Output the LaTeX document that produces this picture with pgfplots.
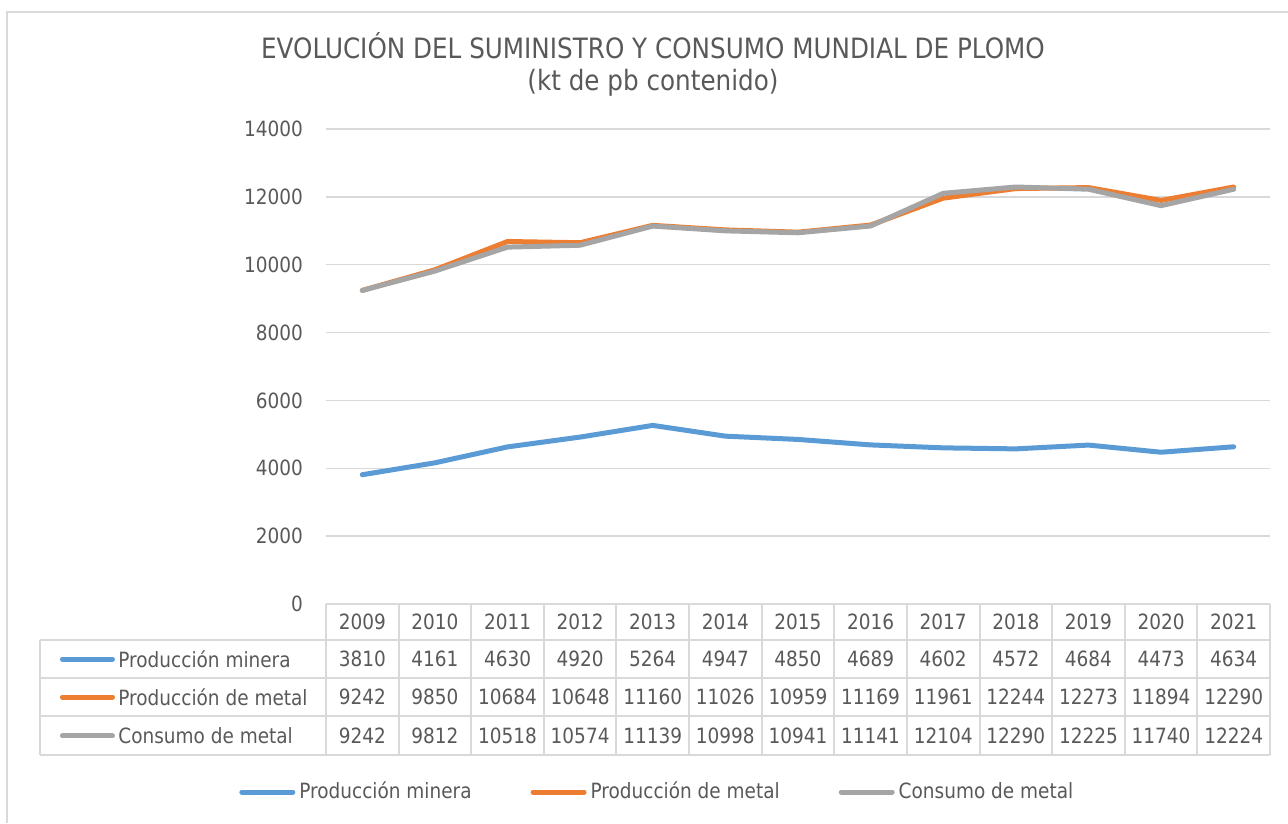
\documentclass[border=0pt]{standalone}
\usepackage{pgfplots}
\pgfplotsset{compat=1.18}
\usepackage{pgfplotstable}
\usepackage{fontspec}
\setmainfont{DejaVu Sans}[FakeStretch=0.88]
\definecolor{cblue}{HTML}{5B9BD5}
\definecolor{corange}{HTML}{ED7D31}
\definecolor{cgray}{HTML}{A5A5A5}
\definecolor{cgrid}{HTML}{D9D9D9}
\definecolor{ctext}{HTML}{595959}
\pgfplotstableread{
x year mine metal cons
0 2009 3810 9242 9242
1 2010 4161 9850 9812
2 2011 4630 10684 10518
3 2012 4920 10648 10574
4 2013 5264 11160 11139
5 2014 4947 11026 10998
6 2015 4850 10959 10941
7 2016 4689 11169 11141
8 2017 4602 11961 12104
9 2018 4572 12244 12290
10 2019 4684 12273 12225
11 2020 4473 11894 11740
12 2021 4634 12290 12224
}\data
\begin{document}
\begin{tikzpicture}[font=\fontsize{10.5}{12}\selectfont,
  tabtext/.style={text=ctext, inner sep=0pt, anchor=center, font=\fontsize{10.5}{12}\selectfont}]
\begin{axis}[
  scale only axis, width=472pt, height=237.5pt,
  xmin=-0.5, xmax=12.5, ymin=0, ymax=14000,
  clip=false,
  axis line style={draw=none},
  xtick=\empty,
  ytick={0,2000,...,14000},
  scaled y ticks=false,
  yticklabel={\pgfmathprintnumber[fixed,precision=0,1000 sep={}]{\tick}},
  major tick length=0pt,
  ymajorgrids,
  grid style={draw=cgrid, line width=0.75pt},
  yticklabel style={text=ctext, font=\fontsize{10.5}{12}\selectfont, xshift=-8pt},
  /pgf/number format/1000 sep={},
  /pgf/number format/assume math mode=true,
  legend style={at={(0.352,-0.3958)}, anchor=center, draw=none, fill=none,
    legend columns=3, font=\fontsize{10.5}{12}\selectfont, text=ctext,
    /tikz/every even column/.append style={column sep=27.5pt}},
  legend image code/.code={\draw[#1] (0pt,0pt) -- (25.5pt,0pt);},
]
\addplot[cblue, line width=2.5pt, line join=round, line cap=round] table[x=x,y=mine]{\data};
\addlegendentry{Producción minera}
\addplot[corange, line width=2.5pt, line join=round, line cap=round] table[x=x,y=metal]{\data};
\addlegendentry{Producción de metal}
\addplot[cgray, line width=2.5pt, line join=round, line cap=round] table[x=x,y=cons]{\data};
\addlegendentry{Consumo de metal}

% data table grid
\draw[cgrid, line width=1pt] (axis cs:-4.4385,-1061) -- (axis cs:12.5,-1061);
\draw[cgrid, line width=1pt] (axis cs:-4.4385,-2181) -- (axis cs:12.5,-2181);
\draw[cgrid, line width=1pt] (axis cs:-4.4385,-3301) -- (axis cs:12.5,-3301);
\draw[cgrid, line width=1pt] (axis cs:-4.4385,-4450) -- (axis cs:12.5,-4450);
\draw[cgrid, line width=1pt] (axis cs:-4.4385,-1061) -- (axis cs:-4.4385,-4450);
\pgfplotsinvokeforeach{-0.5,0.5,...,12.5}{
  \draw[cgrid, line width=1pt] (axis cs:#1,0) -- (axis cs:#1,-4450);
}
\pgfplotsinvokeforeach{0,...,12}{
  \pgfplotstablegetelem{#1}{year}\of\data
  \edef\tmp{\noexpand\node[tabtext] at (axis cs:#1,-530) {\pgfplotsretval};}\tmp
  \pgfplotstablegetelem{#1}{mine}\of\data
  \edef\tmp{\noexpand\node[tabtext] at (axis cs:#1,-1621) {\pgfplotsretval};}\tmp
  \pgfplotstablegetelem{#1}{metal}\of\data
  \edef\tmp{\noexpand\node[tabtext] at (axis cs:#1,-2741) {\pgfplotsretval};}\tmp
  \pgfplotstablegetelem{#1}{cons}\of\data
  \edef\tmp{\noexpand\node[tabtext] at (axis cs:#1,-3890) {\pgfplotsretval};}\tmp
}
% row labels and keys
\draw[cblue, line width=2.5pt, line cap=round] (axis cs:-4.129,-1621) -- (axis cs:-3.44,-1621);
\draw[corange, line width=2.5pt, line cap=round] (axis cs:-4.129,-2741) -- (axis cs:-3.44,-2741);
\draw[cgray, line width=2.5pt, line cap=round] (axis cs:-4.129,-3890) -- (axis cs:-3.44,-3890);
\node[tabtext, anchor=west] at (axis cs:-3.364,-1621) {Producción minera};
\node[tabtext, anchor=west] at (axis cs:-3.364,-2741) {Producción de metal};
\node[tabtext, anchor=west] at (axis cs:-3.364,-3890) {Consumo de metal};

% title
\node[align=center, text=ctext, font=\fontsize{14}{16}\selectfont] at (axis cs:4.003,15916)
  {EVOLUCIÓN DEL SUMINISTRO Y CONSUMO MUNDIAL DE PLOMO\\(kt de pb contenido)};

% chart border
\draw[cgrid, line width=1pt] (axis cs:-4.893,-6455) -- (axis cs:-4.893,17448) -- (axis cs:12.748,17448);
\coordinate (BL) at (axis cs:-4.989,-6455);
\coordinate (TR) at (axis cs:12.748,17802);
\end{axis}
\pgfresetboundingbox
\path[use as bounding box] (BL) rectangle (TR);
\end{tikzpicture}
\end{document}
